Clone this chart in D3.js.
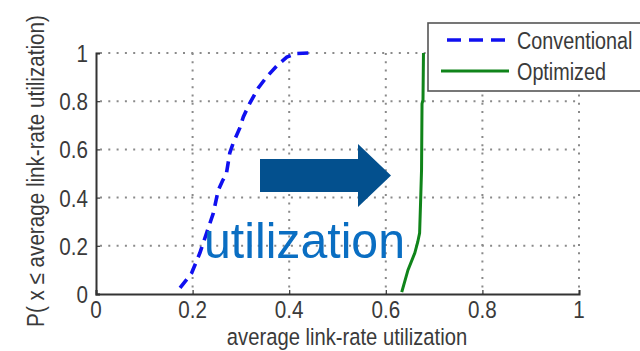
<!DOCTYPE html>
<html><head><meta charset="utf-8">
<script src="https://cdn.jsdelivr.net/npm/d3@7/dist/d3.min.js"></script>
<style>html,body{margin:0;padding:0;background:#fff;overflow:hidden}</style>
</head><body>
<script>
const xTicks = [0, 0.2, 0.4, 0.6, 0.8, 1];
const yTicks = [0, 0.2, 0.4, 0.6, 0.8, 1];
const conventionalX = [0.174,0.198,0.215,0.229,0.243,0.253,0.262,0.270,0.277,0.284,0.298,0.305,0.318,0.336,0.353,0.376,0.395,0.415,0.443];
const conventionalY = [0.025,0.087,0.170,0.253,0.336,0.430,0.470,0.500,0.585,0.626,0.690,0.735,0.790,0.855,0.900,0.950,0.983,0.998,1.000];
const optimizedX = [0.633,0.646,0.660,0.666,0.670,0.672,0.674,0.675,0.677,0.678];
const optimizedY = [0.008,0.100,0.170,0.215,0.253,0.380,0.515,0.790,0.805,1.000];
const seriesNames = ["Conventional", "Optimized"];
const xLabel = "average link-rate utilization";
const yLabel = "P( x \u2264 average link-rate utilization)";
const annotation = "utilization";

const W = 640, H = 351;
const m = {l: 96, t: 53, r: 579, b: 294};
const svg = d3.select("body").append("svg").attr("width", W).attr("height", H);
const x = d3.scaleLinear().domain([0, 1]).range([m.l, m.r]);
const y = d3.scaleLinear().domain([0, 1]).range([m.b, m.t]);
const font = "'Liberation Sans', Arial, sans-serif";
const textCol = "#3a3a3a";
const sx = 0.86;

// grid
const grid = svg.append("g").attr("stroke", "#8a8a8a").attr("stroke-width", 2).attr("stroke-dasharray", "2,6.3");
grid.selectAll(".gx").data(xTicks.filter(d => d > 0)).join("line")
  .attr("x1", d => x(d)).attr("x2", d => x(d)).attr("y1", y(1)).attr("y2", y(0));
grid.selectAll(".gy").data(yTicks.filter(d => d > 0)).join("line")
  .attr("y1", d => y(d)).attr("y2", d => y(d)).attr("x1", x(0) + 4).attr("x2", x(1));

// axes
const xAxis = svg.append("g").attr("transform", `translate(0,${m.b})`)
  .call(d3.axisBottom(x).tickValues(xTicks).tickSize(-4).tickPadding(0).tickFormat(d3.format("")));
const yAxis = svg.append("g").attr("transform", `translate(${m.l},0)`)
  .call(d3.axisLeft(y).tickValues(yTicks).tickSize(-4).tickPadding(0).tickFormat(d3.format("")));
[xAxis, yAxis].forEach(a => {
  a.select(".domain").attr("stroke", "#333").attr("stroke-width", 2);
  a.selectAll(".tick line").attr("stroke", "#333").attr("stroke-width", 1.2);
  a.selectAll(".tick text").remove();
});
// tick labels
svg.append("g").selectAll("text").data(xTicks).join("text")
  .attr("transform", d => `translate(${x(d)},318) scale(${sx},1)`)
  .attr("text-anchor", "middle").attr("font-family", font).attr("font-size", 24).attr("fill", textCol)
  .text(d => d3.format("")(d));
svg.append("g").selectAll("text").data(yTicks).join("text")
  .attr("transform", d => `translate(88,${y(d) + 9}) scale(${sx},1)`)
  .attr("text-anchor", "end").attr("font-family", font).attr("font-size", 24).attr("fill", textCol)
  .text(d => d3.format("")(d));

// labels
svg.append("text").attr("transform", `translate(347,345) scale(${sx},1)`)
  .attr("text-anchor", "middle").attr("font-family", font).attr("font-size", 23.5).attr("fill", textCol).text(xLabel);
svg.append("text").attr("transform", `translate(44,171) rotate(-90) scale(${sx},1)`)
  .attr("text-anchor", "middle").attr("font-family", font).attr("font-size", 24).attr("fill", textCol).text(yLabel);

// curves
const line = d3.line().x(d => x(d[0])).y(d => y(d[1]));
const conv = conventionalX.map((v, i) => [v, conventionalY[i]]);
const opt = optimizedX.map((v, i) => [v, optimizedY[i]]);
svg.append("path").datum(opt).attr("d", line).attr("fill", "none")
  .attr("stroke", "#10841a").attr("stroke-width", 3);
svg.append("path").datum(conv).attr("d", line).attr("fill", "none")
  .attr("stroke", "#1010f0").attr("stroke-width", 3.6).attr("stroke-dasharray", "11,7");

// arrow
svg.append("path")
  .attr("d", `M260,159 L358,159 L358,144 L391,175.5 L358,207 L358,192 L260,192 Z`)
  .attr("fill", "#03508e");

// annotation
svg.append("text").attr("x", 204).attr("y", 258).attr("font-family", font).attr("font-size", 50)
  .attr("textLength", 201).attr("lengthAdjust", "spacingAndGlyphs")
  .attr("fill", "#0a6ec2").text(annotation);

// legend
const lg = svg.append("g");
lg.append("rect").attr("x", 428).attr("y", 23).attr("width", 230).attr("height", 68)
  .attr("fill", "#fff").attr("stroke", "#555").attr("stroke-width", 1.6);
lg.append("line").attr("x1", 447).attr("x2", 509).attr("y1", 40).attr("y2", 40)
  .attr("stroke", "#1010f0").attr("stroke-width", 3.4).attr("stroke-dasharray", "14,8");
lg.append("line").attr("x1", 441).attr("x2", 509).attr("y1", 71).attr("y2", 71)
  .attr("stroke", "#10841a").attr("stroke-width", 3);
lg.selectAll("text").data(seriesNames).join("text")
  .attr("transform", (d, i) => `translate(517,${49 + i * 31}) scale(${sx},1)`)
  .attr("font-family", font).attr("font-size", 23).attr("fill", textCol).text(d => d);
</script>
</body></html>
